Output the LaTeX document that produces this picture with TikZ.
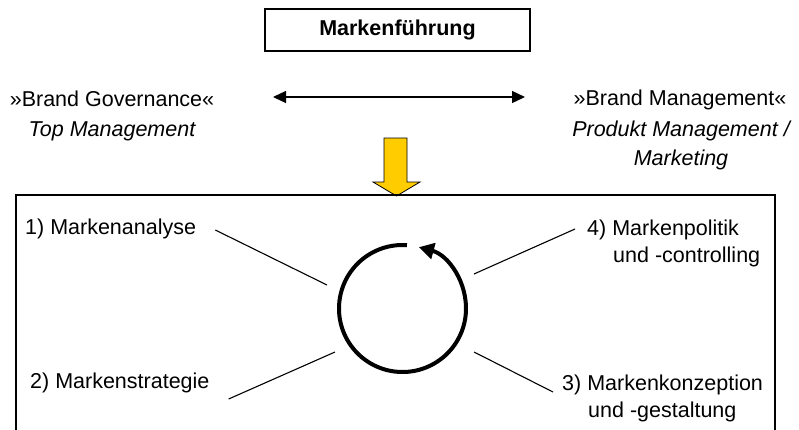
\documentclass[tikz,border=0pt]{standalone}
\usepackage{fontspec}
\setmainfont{Liberation Sans}
\usetikzlibrary{arrows.meta}
\definecolor{arrowyellow}{HTML}{FFCC00}
\begin{document}
\begin{tikzpicture}[x=1pt,y=-1pt,
  txt/.style={inner sep=0pt, font=\fontsize{21.5}{29}\selectfont},
  lbl/.style={inner sep=0pt, align=left, font=\fontsize{21.5}{27}\selectfont},
  conn/.style={line width=1.1pt},
  frame/.style={line width=1.3pt}]
\useasboundingbox (0,0) rectangle (799,429);
% title box
\node[draw, frame, minimum width=265pt, minimum height=42pt, inner sep=0pt,
      font=\fontsize{21.5}{26}\selectfont\bfseries] (title) at (397.5,30) {Markenführung};
% left / right headings
\node[txt] (bg) at (112,99) {»Brand Governance«};
\node[txt, font=\fontsize{21.5}{29}\selectfont\itshape] (tm) at (112,131) {Top Management};
\node[txt] (bm) at (680,100) {»Brand Management«};
\node[txt, align=center, font=\fontsize{21.5}{29}\selectfont\itshape] (pm) at (681,145) {Produkt Management /\\Marketing};
% double arrow
\coordinate (da) at (273,97);
\coordinate (db) at (525,97);
\draw[line width=1.3pt, {Triangle[length=13pt,width=12pt]}-{Triangle[length=13pt,width=12pt]}] (da) -- (db);
% yellow arrow
\draw[fill=arrowyellow, line width=0.8pt]
  (384,138) -- (407,138) -- (407,182) -- (420,182) -- (396.5,196) -- (373,182) -- (384,182) -- cycle;
% big frame (bottom cut off)
\draw[frame] (16,432) -- (16,195) -- (775,195) -- (775,432);
% cycle arrow
\coordinate (c) at (402.5,308.5);
\draw[line width=4pt, -{Triangle[length=15pt,width=16pt]}]
  ([shift={(-86:63.5)}]c) arc[start angle=-86, end angle=-435, radius=63.5];
% labels
\node[lbl, anchor=west] (l1) at (25,229) {1) Markenanalyse};
\node[lbl, anchor=west] (l2) at (30,383) {2) Markenstrategie};
\node[lbl, anchor=west] (l4) at (587,243.5) {4) Markenpolitik\\\hspace*{26pt}und -controlling};
\node[lbl, anchor=west] (l3) at (562,398) {3) Markenkonzeption\\\hspace*{26pt}und -gestaltung};
% connectors
\coordinate (e1) at (327,285);
\coordinate (e2) at (335,352);
\coordinate (e4) at (474,274);
\coordinate (e3) at (474,352);
\path (l1.east) ++(19,1) coordinate (s1);
\path (l2.east) ++(19,16) coordinate (s2);
\path (l4.west) ++(-12,-14.5) coordinate (s4);
\path (l3.west) ++(-9,-6) coordinate (s3);
\draw[conn] (s1) -- (e1);
\draw[conn] (s2) -- (e2);
\draw[conn] (s4) -- (e4);
\draw[conn] (s3) -- (e3);
\end{tikzpicture}
\end{document}
